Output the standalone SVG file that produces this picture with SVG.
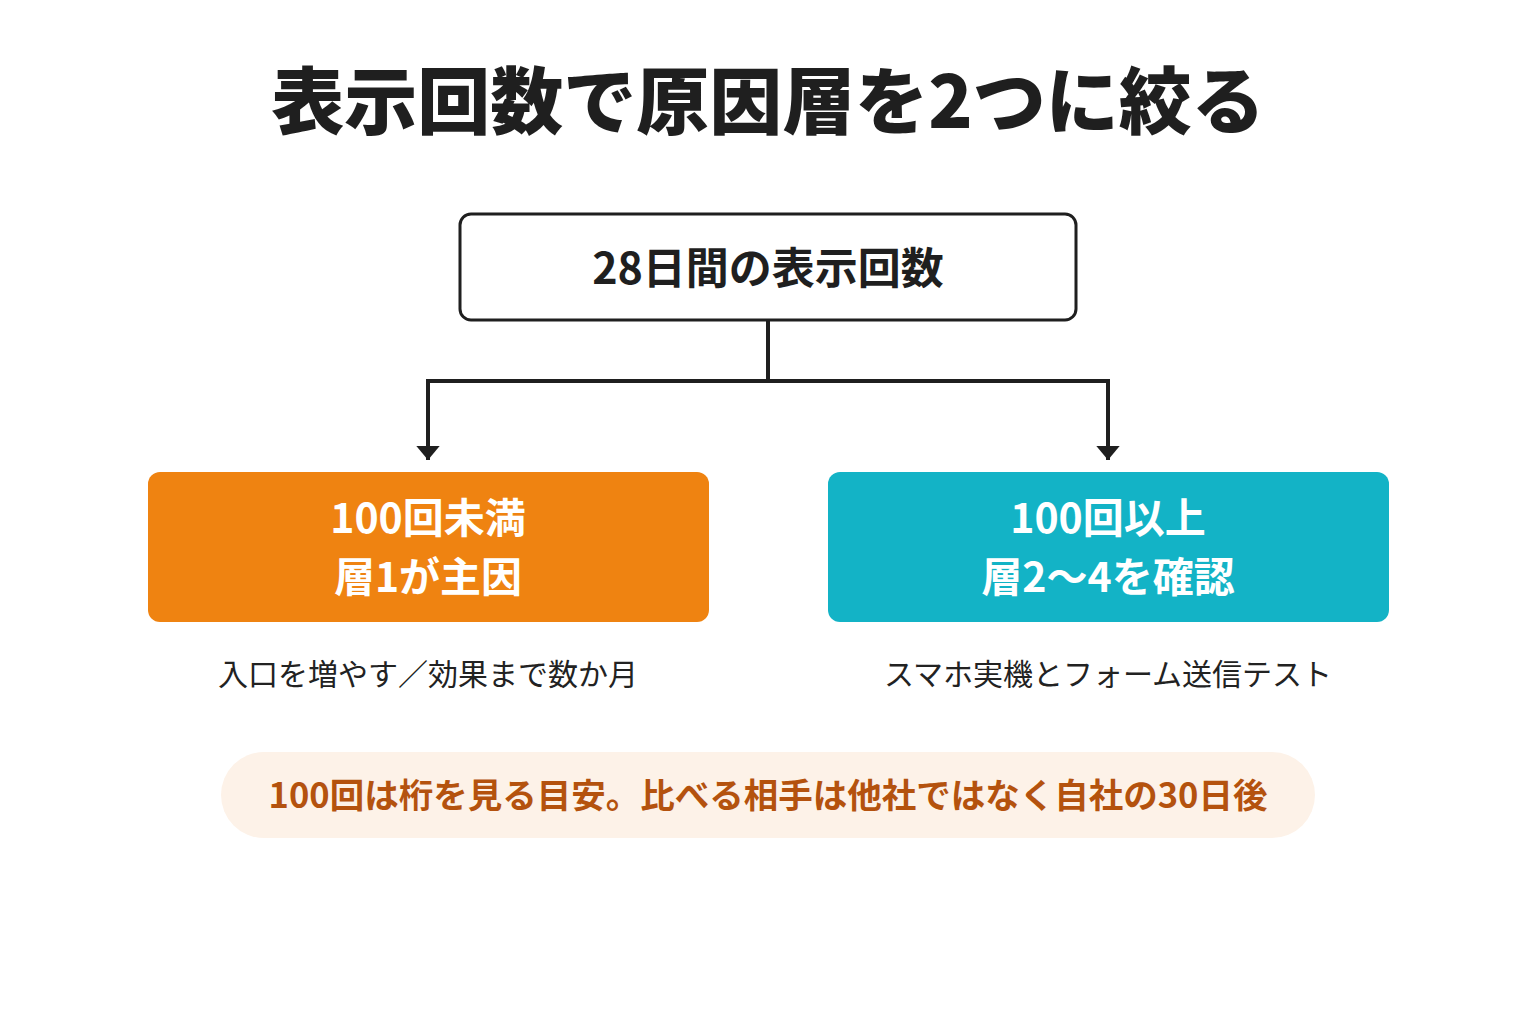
<svg xmlns="http://www.w3.org/2000/svg" width="1536" height="1024" viewBox="0 0 1536 1024">
<defs>
<style>
text{font-family:"Noto Sans CJK JP","Noto Sans",sans-serif;text-anchor:middle}
.title{font-size:73px;font-weight:900;fill:#1f1f1f}
.top{font-size:43px;font-weight:700;fill:#1f1f1f}
.box{font-size:41px;font-weight:700;fill:#ffffff}
.sub{font-size:30px;font-weight:400;fill:#222222}
.note{font-size:34.5px;font-weight:700;fill:#B4520E}
.conn{fill:none;stroke:#1f1f1f;stroke-width:4}
</style>
<marker id="arr" viewBox="0 0 6 10" refX="6" refY="5" markerWidth="3.6" markerHeight="6" markerUnits="strokeWidth" orient="auto">
<path d="M0,0 L6,5 L0,10 Z" fill="#1f1f1f"/>
</marker>
</defs>
<rect width="1536" height="1024" fill="#ffffff"/>
<text class="title" x="768" y="128">表示回数で原因層を2つに絞る</text>
<g id="connectors">
<path class="conn" d="M768,321 V381 H428 V460" marker-end="url(#arr)"/>
<path class="conn" d="M768,381 H1108 V460" marker-end="url(#arr)"/>
</g>
<g id="node-top">
<rect x="460" y="214" width="616" height="106" rx="11" fill="#ffffff" stroke="#1f1f1f" stroke-width="3"/>
<text class="top" x="768" y="284">28日間の表示回数</text>
</g>
<g id="node-left">
<rect x="148" y="472" width="561" height="150" rx="12" fill="#EF8311"/>
<text class="box" x="428" y="533">100回未満</text>
<text class="box" x="428" y="592">層1が主因</text>
</g>
<g id="node-right">
<rect x="828" y="472" width="561" height="150" rx="12" fill="#13B3C6"/>
<text class="box" x="1108" y="533">100回以上</text>
<text class="box" x="1108" y="592">層2〜4を確認</text>
</g>
<g id="sub-left">
<text class="sub" x="428" y="685">入口を増やす／効果まで数か月</text>
</g>
<g id="sub-right">
<text class="sub" x="1108" y="685">スマホ実機とフォーム送信テスト</text>
</g>
<g id="note">
<rect x="221" y="752" width="1094" height="86" rx="43" fill="#FDF2E8"/>
<text class="note" x="768" y="808">100回は桁を見る目安。比べる相手は他社ではなく自社の30日後</text>
</g>
</svg>
